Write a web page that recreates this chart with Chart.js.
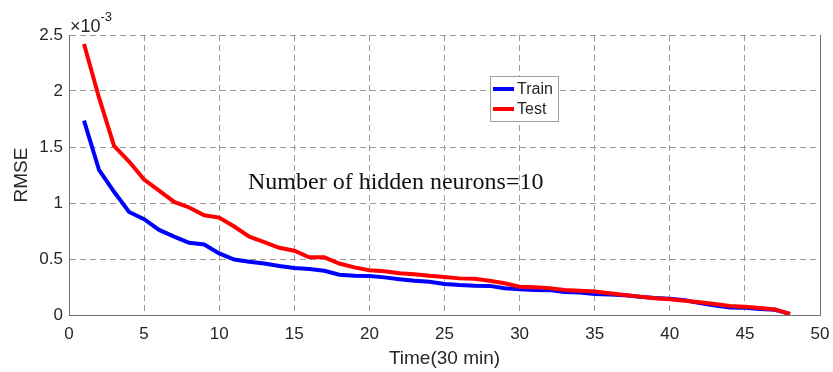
<!DOCTYPE html>
<html>
<head>
<meta charset="utf-8">
<script src="https://cdn.jsdelivr.net/npm/chart.js@4.4.0/dist/chart.umd.min.js"></script>
<style>
  html, body { margin: 0; padding: 0; background: #fff; }
  #wrap { width: 833px; height: 372px; }
</style>
</head>
<body>
<div id="wrap"><canvas id="rmseChart" width="833" height="372"></canvas></div>
<script>
// time steps (30 min each)
const steps = [1, 2, 3, 4, 5, 6, 7, 8, 9, 10, 11, 12, 13, 14, 15, 16, 17, 18, 19, 20, 21, 22, 23, 24,
               25, 26, 27, 28, 29, 30, 31, 32, 33, 34, 35, 36, 37, 38, 39, 40, 41, 42, 43, 44, 45, 46, 47, 48];

// RMSE values, in units of 1e-3
const trainRmse = [1.735, 1.295, 1.10, 0.92, 0.855, 0.76, 0.70, 0.645, 0.63, 0.55, 0.495, 0.476,
                   0.46, 0.437, 0.42, 0.41, 0.395, 0.36, 0.35, 0.348, 0.336, 0.32, 0.306, 0.297,
                   0.277, 0.268, 0.262, 0.26, 0.238, 0.229, 0.223, 0.222, 0.205, 0.2, 0.188, 0.182,
                   0.176, 0.162, 0.152, 0.145, 0.132, 0.106, 0.085, 0.068, 0.064, 0.054, 0.047, 0.01];
const testRmse  = [2.42, 1.94, 1.51, 1.37, 1.21, 1.11, 1.01, 0.96, 0.89, 0.87, 0.79, 0.70,
                   0.65, 0.60, 0.574, 0.515, 0.515, 0.46, 0.425, 0.40, 0.39, 0.372, 0.363, 0.35,
                   0.34, 0.327, 0.324, 0.306, 0.283, 0.253, 0.247, 0.24, 0.223, 0.217, 0.21, 0.195,
                   0.178, 0.164, 0.149, 0.14, 0.128, 0.113, 0.098, 0.08, 0.074, 0.062, 0.05, 0.01];

const xTicks = [0, 5, 10, 15, 20, 25, 30, 35, 40, 45, 50];
const yTicks = [0, 0.5, 1, 1.5, 2, 2.5];
const seriesNames = ["Train", "Test"];
const noteText = "Number of hidden neurons=10";

const textColor = "#262626";
const gridColor = "#9a9a9a";
const axisColor = "#6e6e6e";

const toPoints = vals => steps.map((s, i) => ({ x: s, y: vals[i] }));

// extra drawing: exponent, note, legend box, right border
const extras = {
    id: "extras",
    afterDraw(chart) {
        const { ctx, chartArea: a } = chart;
        ctx.save();

        ctx.strokeStyle = axisColor;
        ctx.lineWidth = 1;
        ctx.beginPath();
        ctx.moveTo(a.right + 0.5, a.top);
        ctx.lineTo(a.right + 0.5, a.bottom);
        ctx.stroke();

        ctx.fillStyle = textColor;
        ctx.textBaseline = "alphabetic";
        ctx.textAlign = "left";
        ctx.font = "18px 'Liberation Sans', Arial, sans-serif";
        ctx.fillText("\u00d710", a.left + 1, a.top - 3);
        const w = ctx.measureText("\u00d710").width;
        ctx.font = "13px 'Liberation Sans', Arial, sans-serif";
        ctx.fillText("-3", a.left + 1 + w, a.top - 14);

        ctx.font = "24px 'Liberation Serif', 'Times New Roman', serif";
        ctx.fillStyle = "#111";
        ctx.fillText(noteText, 248, 189);

        // legend
        const bx = 490, by = 76, bw = 68, bh = 45;
        ctx.fillStyle = "#fff";
        ctx.fillRect(bx, by, bw, bh);
        ctx.strokeStyle = "#a0a0a0";
        ctx.strokeRect(bx + 0.5, by + 0.5, bw, bh);
        const ds = chart.data.datasets;
        const rows = [ds[1], ds[0]];
        rows.forEach((d, i) => {
            const y = 89 + i * 20;
            ctx.strokeStyle = d.borderColor;
            ctx.lineWidth = 4;
            ctx.beginPath();
            ctx.moveTo(493, y);
            ctx.lineTo(514, y);
            ctx.stroke();
            ctx.fillStyle = textColor;
            ctx.font = "16px 'Liberation Sans', Arial, sans-serif";
            ctx.textBaseline = "middle";
            ctx.fillText(d.label, 517, y + 1);
        });
        ctx.restore();
    }
};

new Chart(document.getElementById("rmseChart"), {
    type: "line",
    data: {
        datasets: [
            {
                label: seriesNames[1],
                data: toPoints(testRmse),
                borderColor: "#ff0000",
                borderWidth: 4,
                pointRadius: 0,
                tension: 0,
                order: 0
            },
            {
                label: seriesNames[0],
                data: toPoints(trainRmse),
                borderColor: "#0000ff",
                borderWidth: 4,
                pointRadius: 0,
                tension: 0,
                order: 1
            }
        ]
    },
    options: {
        responsive: false,
        animation: false,
        devicePixelRatio: 1,
        layout: { padding: { top: 35, right: 13, left: 0, bottom: 0 } },
        plugins: {
            legend: { display: false },
            tooltip: { enabled: false }
        },
        scales: {
            x: {
                type: "linear",
                min: 0,
                max: 50,
                afterBuildTicks: s => { s.ticks = xTicks.map(v => ({ value: v })); },
                afterFit: s => { s.height = 57; s.paddingLeft = 0; s.paddingRight = 0; },
                ticks: {
                    color: textColor,
                    font: { family: "'Liberation Sans', Arial, sans-serif", size: 17 },
                    padding: 9,
                    maxRotation: 0,
                    callback: v => String(v)
                },
                grid: { color: gridColor, lineWidth: 1, drawTicks: false },
                border: { display: true, color: axisColor, width: 1, dash: [6, 4] },
                title: {
                    display: true,
                    text: "Time(30 min)",
                    color: textColor,
                    font: { family: "'Liberation Sans', Arial, sans-serif", size: 19 },
                    padding: { top: 0, bottom: 2 }
                }
            },
            y: {
                type: "linear",
                min: 0,
                max: 2.5,
                afterBuildTicks: s => { s.ticks = yTicks.map(v => ({ value: v })); },
                afterFit: s => { s.width = 69; s.paddingTop = 0; s.paddingBottom = 0; },
                ticks: {
                    color: textColor,
                    font: { family: "'Liberation Sans', Arial, sans-serif", size: 17 },
                    padding: 6,
                    callback: v => String(v)
                },
                grid: { color: gridColor, lineWidth: 1, drawTicks: false },
                border: { display: true, color: axisColor, width: 1, dash: [6, 4] },
                title: {
                    display: true,
                    text: "RMSE",
                    color: textColor,
                    font: { family: "'Liberation Sans', Arial, sans-serif", size: 19 },
                    padding: { top: 10, bottom: 0 }
                }
            }
        }
    },
    plugins: [extras]
});
</script>
</body>
</html>
